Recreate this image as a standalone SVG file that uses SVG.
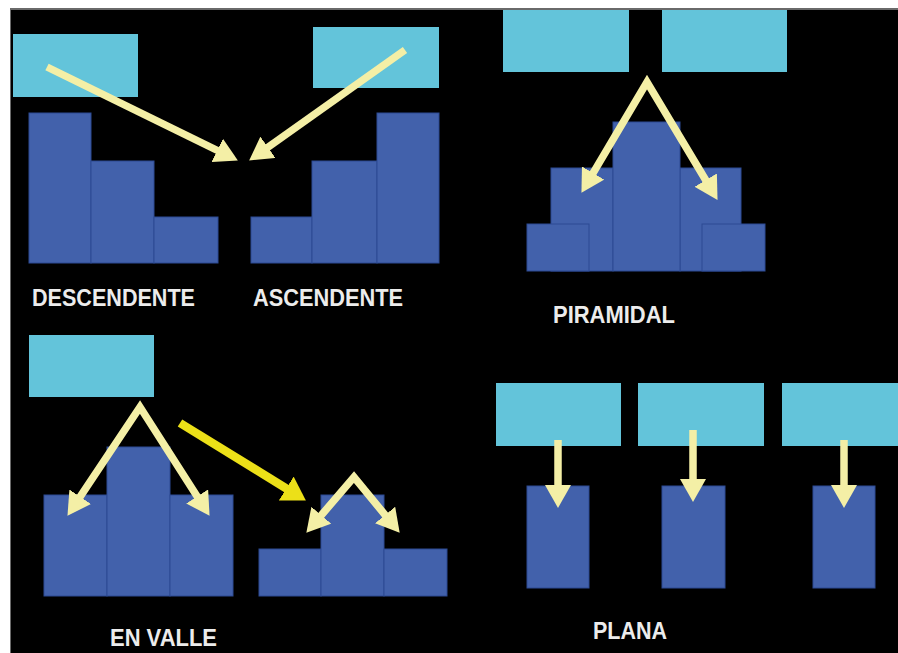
<svg xmlns="http://www.w3.org/2000/svg" width="898" height="653" viewBox="0 0 898 653">
<style>
.box{fill:#63c4da}
.bar{fill:#4261ab;stroke:#2d4b93;stroke-width:1}
.lbl{font-family:"Liberation Sans",Arial,sans-serif;font-weight:bold;font-size:24px;fill:#ececec}
.arr{fill:none;stroke:#f4efa6;stroke-width:7.5;stroke-linejoin:miter}
.arrY{fill:none;stroke:#ece018;stroke-width:8.5}
</style>
<defs>
<marker id="hp" markerUnits="userSpaceOnUse" markerWidth="24" markerHeight="26" viewBox="0 0 24 26" refX="6" refY="13" orient="auto-start-reverse">
<path d="M0,0 L23,13 L0,26 z" fill="#f4efa6"/>
</marker>
<marker id="hy" markerUnits="userSpaceOnUse" markerWidth="24" markerHeight="28" viewBox="0 0 24 28" refX="6" refY="14" orient="auto">
<path d="M0,0 L23,14 L0,28 z" fill="#ece018"/>
</marker>
</defs>
<rect x="0" y="0" width="898" height="653" fill="#ffffff"/>
<rect x="10" y="8" width="888" height="645" fill="#6a6a6a"/>
<rect x="11" y="10" width="887" height="643" fill="#000000"/>

<g id="descendente">
<rect class="box" x="13" y="34" width="125" height="63"/>
<rect class="bar" x="29" y="113" width="62" height="150"/>
<rect class="bar" x="91" y="161" width="63" height="102"/>
<rect class="bar" x="154" y="217" width="64" height="46"/>
<text class="lbl" x="32" y="306" textLength="163" lengthAdjust="spacingAndGlyphs">DESCENDENTE</text>
</g>
<g id="ascendente">
<rect class="box" x="313" y="27" width="126" height="61"/>
<rect class="bar" x="251" y="217" width="61" height="46"/>
<rect class="bar" x="312" y="161" width="65" height="102"/>
<rect class="bar" x="377" y="113" width="62" height="150"/>
<text class="lbl" x="253" y="306" textLength="150" lengthAdjust="spacingAndGlyphs">ASCENDENTE</text>
</g>
<g id="piramidal">
<rect class="box" x="503" y="10" width="126" height="62"/>
<rect class="box" x="662" y="10" width="125" height="62"/>
<rect class="bar" x="551" y="168" width="62" height="103"/>
<rect class="bar" x="680" y="168" width="61" height="103"/>
<rect class="bar" x="613" y="122" width="67" height="149"/>
<rect class="bar" x="527" y="224" width="62" height="47"/>
<rect class="bar" x="702" y="224" width="63" height="47"/>
<text class="lbl" x="553" y="323" textLength="122" lengthAdjust="spacingAndGlyphs">PIRAMIDAL</text>
</g>
<g id="envalle">
<rect class="box" x="29" y="335" width="125" height="62"/>
<rect class="bar" x="44" y="495" width="63" height="101"/>
<rect class="bar" x="107" y="447" width="63" height="149"/>
<rect class="bar" x="170" y="495" width="63" height="101"/>
<rect class="bar" x="259" y="549" width="62" height="47"/>
<rect class="bar" x="321" y="495" width="63" height="101"/>
<rect class="bar" x="384" y="549" width="63" height="47"/>
<text class="lbl" x="110" y="646" textLength="107" lengthAdjust="spacingAndGlyphs">EN VALLE</text>
</g>
<g id="plana">
<rect class="box" x="496" y="383" width="125" height="63"/>
<rect class="box" x="638" y="383" width="126" height="63"/>
<rect class="box" x="782" y="383" width="116" height="63"/>
<rect class="bar" x="527" y="486" width="62" height="102"/>
<rect class="bar" x="662" y="486" width="63" height="102"/>
<rect class="bar" x="813" y="486" width="62" height="102"/>
<text class="lbl" x="593" y="639" textLength="74" lengthAdjust="spacingAndGlyphs">PLANA</text>
</g>

<g id="connectors">
<path class="arr" d="M47,67 L222.6,153" marker-end="url(#hp)"/>
<path class="arr" d="M405,50 L263,150.7" marker-end="url(#hp)"/>
<path class="arr" d="M590.1,178.2 L647,82 L708.8,185.3" marker-start="url(#hp)" marker-end="url(#hp)"/>
<path class="arr" d="M76.9,501.7 L140,407 L200.4,501.5" marker-start="url(#hp)" marker-end="url(#hp)"/>
<path class="arrY" d="M180,423 L291.4,491.6" marker-end="url(#hy)"/>
<path class="arr" d="M317.4,519.8 L354,477 L388.9,519.6" marker-start="url(#hp)" marker-end="url(#hp)"/>
<path class="arr" d="M558,440 L558,491" marker-end="url(#hp)"/>
<path class="arr" d="M693,430 L693,485" marker-end="url(#hp)"/>
<path class="arr" d="M844,440 L844,491" marker-end="url(#hp)"/>
</g>
</svg>
